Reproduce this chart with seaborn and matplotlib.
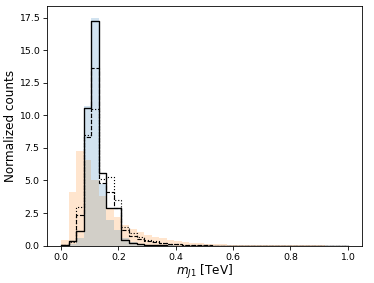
import matplotlib
matplotlib.use('Agg')
import matplotlib.pyplot as plt
import numpy as np
import pandas as pd
import seaborn as sns

# 38 bins between 0 and 1 TeV
n_bins = 38
bin_edges = np.linspace(0, 1, n_bins + 1)
bin_centers = (bin_edges[:-1] + bin_edges[1:]) / 2

# normalized bin heights
orange_fill = [0.40, 4.15, 7.30, 6.60, 5.05, 3.80, 2.90, 2.20, 1.60, 1.30,
               1.05, 0.85, 0.68, 0.55, 0.44, 0.35, 0.28, 0.22, 0.18, 0.15,
               0.12, 0.10, 0.08, 0.07, 0.06, 0.05, 0.045, 0.04, 0.035, 0.03,
               0.025, 0.02, 0.02, 0.015, 0.015, 0.01, 0.01, 0.01]
blue_fill = [0.02, 0.10, 0.60, 10.75, 17.50, 4.70, 2.00, 1.20, 0.60, 0.30,
             0.15, 0.08, 0.05, 0.03, 0.02, 0.01, 0.01, 0.005, 0.0, 0.0,
             0.0, 0.0, 0.0, 0.0, 0.0, 0.0, 0.0, 0.0, 0.0, 0.0,
             0.0, 0.0, 0.0, 0.0, 0.0, 0.0, 0.0, 0.0]
solid_line = [0.05, 0.35, 1.15, 10.60, 17.25, 5.57, 2.87, 2.87, 0.42, 0.20,
              0.10, 0.06, 0.04, 0.02, 0.01, 0.01, 0.005, 0.0, 0.0, 0.0,
              0.0, 0.0, 0.0, 0.0, 0.0, 0.0, 0.0, 0.0, 0.0, 0.0,
              0.0, 0.0, 0.0, 0.0, 0.0, 0.0, 0.0, 0.0]
dashed_line = [0.05, 0.35, 2.35, 8.35, 13.65, 4.80, 4.15, 2.90, 1.20, 0.75,
               0.50, 0.35, 0.28, 0.20, 0.14, 0.10, 0.07, 0.05, 0.03, 0.02,
               0.01, 0.01, 0.0, 0.0, 0.0, 0.0, 0.0, 0.0, 0.0, 0.0,
               0.0, 0.0, 0.0, 0.0, 0.0, 0.0, 0.0, 0.0]
dotted_line = [0.05, 0.30, 3.00, 8.50, 10.45, 5.10, 5.30, 3.50, 1.40, 0.95,
               0.65, 0.45, 0.32, 0.22, 0.15, 0.10, 0.07, 0.05, 0.03, 0.02,
               0.01, 0.01, 0.0, 0.0, 0.0, 0.0, 0.0, 0.0, 0.0, 0.0,
               0.0, 0.0, 0.0, 0.0, 0.0, 0.0, 0.0, 0.0]

df = pd.DataFrame({'m': bin_centers, 'blue': blue_fill, 'orange': orange_fill,
                   'solid': solid_line, 'dashed': dashed_line, 'dotted': dotted_line})

fig, ax = plt.subplots(figsize=(5.0, 3.784), dpi=74.8)

hist_kw = dict(data=df, x='m', bins=n_bins, binrange=(0, 1), element='step', ax=ax)

sns.histplot(weights='orange', fill=True, color='C1', alpha=0.2, linewidth=0, **hist_kw)
sns.histplot(weights='blue', fill=True, color='C0', alpha=0.2, linewidth=0, **hist_kw)

sns.histplot(weights='solid', fill=False, color='black', linewidth=1.3, **hist_kw)
sns.histplot(weights='dashed', fill=False, color='black', linewidth=1.1, linestyle='--', **hist_kw)
sns.histplot(weights='dotted', fill=False, color='black', linewidth=1.1, linestyle=':', **hist_kw)

ax.tick_params(labelsize=9)
ax.set_xlabel(r'$m_{J1}$ [TeV]', fontsize=11.5, labelpad=1)
ax.set_ylabel('Normalized counts', fontsize=11.5, labelpad=2)

fig.subplots_adjust(left=0.125, right=0.968, bottom=0.132, top=0.978)
fig.savefig('out.png', dpi=74.8)
